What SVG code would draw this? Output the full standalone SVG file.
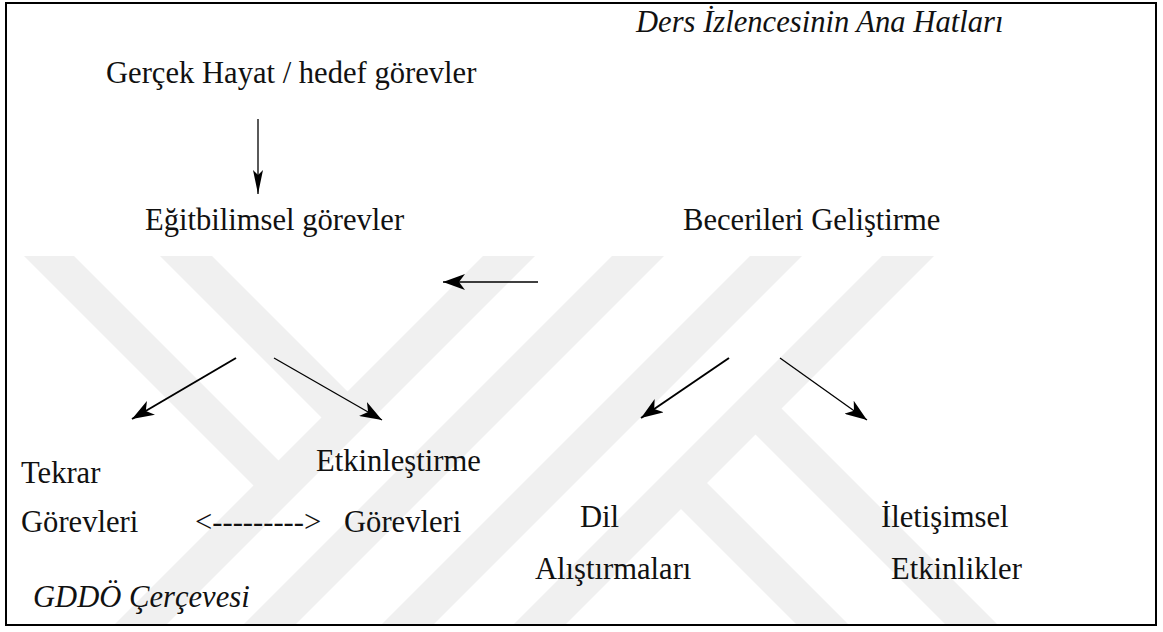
<svg xmlns="http://www.w3.org/2000/svg" width="1163" height="632" viewBox="0 0 1163 632">
  <style>
    text { font-family: 'Liberation Serif', 'Times New Roman', 'DejaVu Serif', serif; font-size: 30.6px; fill: #111; }
    .i { font-style: italic; }
    .wm { fill: #f0f0f0; }
    .c { stroke: #000; fill: none; }
  </style>
  <defs>
    <clipPath id="wmclip"><rect x="7" y="256" width="1148" height="368"/></clipPath>
    <marker id="stealth" viewBox="0 0 22 16" refX="22" refY="8" markerWidth="22" markerHeight="16" markerUnits="userSpaceOnUse" orient="auto">
      <path d="M0,0 L22,8 L0,16 L6,8 Z" fill="#000"/>
    </marker>
    <marker id="stealthN" viewBox="0 0 24 10" refX="24" refY="5" markerWidth="24" markerHeight="10" markerUnits="userSpaceOnUse" orient="auto">
      <path d="M0,0 L24,5 L0,10 L5,5 Z" fill="#000"/>
    </marker>
  </defs>
  <rect x="0" y="0" width="1163" height="632" fill="#fff"/>

  <g id="watermark" clip-path="url(#wmclip)">
    <polygon class="wm" points="483,256 535,256 165,626 113,626"/>
    <polygon class="wm" points="612,256 664,256 294,626 242,626"/>
    <polygon class="wm" points="750,256 802,256 432,626 380,626"/>
    <polygon class="wm" points="882,256 934,256 564,626 512,626"/>
    <polygon class="wm" points="24,256 74,256 291.5,473.5 266.5,498.5"/>
    <polygon class="wm" points="160,256 212,256 360.5,404.5 334.5,430.5"/>
    <polygon class="wm" points="768.5,395.5 999,626 947,626 742.5,421.5"/>
    <polygon class="wm" points="694,470 850,626 798,626 668,496"/>
  </g>

  <rect id="frame" x="6" y="3" width="1150" height="622" fill="none" stroke="#000" stroke-width="2"/>

  <g font-family="Liberation Serif, Times New Roman, serif">
    <g id="title"><text class="i" x="636" y="32">Ders İzlencesinin Ana Hatları</text></g>
    <g id="real-tasks"><text x="106" y="83">Gerçek Hayat / hedef görevler</text></g>
    <g id="pedagogic-tasks"><text x="145" y="230">Eğitbilimsel görevler</text></g>
    <g id="skills"><text x="683" y="230">Becerileri Geliştirme</text></g>
    <g id="repetition"><text x="21" y="483">Tekrar</text><text x="21" y="532">Görevleri</text></g>
    <g id="activation"><text x="316" y="471">Etkinleştirme</text><text x="344" y="532">Görevleri</text></g>
    <g id="language-exercises"><text x="580" y="527">Dil</text><text x="535" y="579">Alıştırmaları</text></g>
    <g id="communicative"><text x="881" y="527">İletişimsel</text><text x="891" y="579">Etkinlikler</text></g>
    <g id="framework"><text class="i" x="33" y="607">GDDÖ Çerçevesi</text></g>
  </g>

  <g id="connectors">
    <line class="c" x1="258" y1="119" x2="258" y2="194" stroke-width="1.3" marker-end="url(#stealthN)"/>
    <line class="c" x1="538" y1="282" x2="443" y2="282" stroke-width="1.6" marker-end="url(#stealth)"/>
    <line class="c" x1="236" y1="358" x2="132" y2="419" stroke-width="2" marker-end="url(#stealth)"/>
    <line class="c" x1="274" y1="358" x2="382" y2="420" stroke-width="1.3" marker-end="url(#stealth)"/>
    <line class="c" x1="729" y1="358" x2="641" y2="418" stroke-width="2" marker-end="url(#stealth)"/>
    <line class="c" x1="780" y1="358" x2="867" y2="420" stroke-width="1.3" marker-end="url(#stealth)"/>
    <text x="195" y="532" font-family="Liberation Serif, Times New Roman, serif">&lt;---------&gt;</text>
  </g>
</svg>
